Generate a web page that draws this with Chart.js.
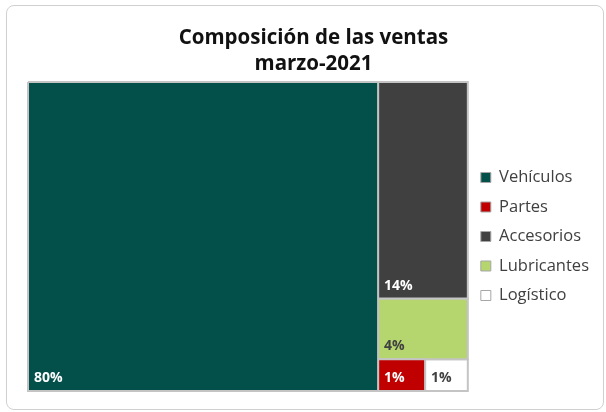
<!DOCTYPE html>
<html>
<head>
<meta charset="utf-8">
<script src="https://cdn.jsdelivr.net/npm/chart.js@4.4.0/dist/chart.umd.min.js"></script>
<style>
  html, body { margin: 0; padding: 0; background: #fff; }
  #wrap { position: relative; width: 606px; height: 412px; }
  #frame { position: absolute; left: 6px; top: 5px; width: 598px; height: 405px; border: 1px solid #d0d0d0;
           border-radius: 8px; box-sizing: border-box; pointer-events: none; }
  canvas { position: absolute; left: 0; top: 0; }
</style>
</head>
<body>
<div id="wrap">
  <canvas id="chart" width="606" height="412"></canvas>
  <div id="frame"></div>
</div>
<script>
// Sales composition, March 2021 (share of total, %)
const categories = ["Vehículos", "Partes", "Accesorios", "Lubricantes", "Logístico"];
const shares = [79.6, 1.1, 14.3, 4.0, 1.0];
const colors = ["#03504a", "#c00000", "#404040", "#b5d66f", "#ffffff"];
const labelColors = ["#ffffff", "#ffffff", "#ffffff", "#404040", "#404040"];
const titleLines = ["Composición de las ventas", "marzo-2021"];

// treemap box in value units (same aspect as the plot area)
const BOX_W = 439;
const BOX_H = 309;
const FONT = "'Open Sans', sans-serif";

/** Squarified treemap layout; returns a rect per original index. */
function squarify(values, w, h) {
  const order = values.map((v, i) => ({ i, v })).sort((a, b) => b.v - a.v);
  const total = order.reduce((s, d) => s + d.v, 0);
  const items = order.map((d) => ({ i: d.i, a: d.v * (w * h) / total }));
  const out = [];
  let rect = { x: 0, y: 0, w, h };
  let row = [];

  const worst = (r, side) => {
    const sum = r.reduce((s, d) => s + d.a, 0);
    const max = Math.max(...r.map((d) => d.a));
    const min = Math.min(...r.map((d) => d.a));
    return Math.max(side * side * max / (sum * sum), (sum * sum) / (side * side * min));
  };

  const layoutRow = (r) => {
    const sum = r.reduce((s, d) => s + d.a, 0);
    if (rect.w >= rect.h) {
      const cw = sum / rect.h;
      let cy = rect.y;
      r.forEach((d) => {
        const ch = d.a / cw;
        out[d.i] = { x0: rect.x, x1: rect.x + cw, y0: cy, y1: cy + ch };
        cy += ch;
      });
      rect = { x: rect.x + cw, y: rect.y, w: rect.w - cw, h: rect.h };
    } else {
      const rh = sum / rect.w;
      let cx = rect.x;
      r.forEach((d) => {
        const cw = d.a / rh;
        out[d.i] = { x0: cx, x1: cx + cw, y0: rect.y, y1: rect.y + rh };
        cx += cw;
      });
      rect = { x: rect.x, y: rect.y + rh, w: rect.w, h: rect.h - rh };
    }
  };

  let k = 0;
  while (k < items.length) {
    const side = Math.min(rect.w, rect.h);
    if (row.length === 0 || worst(row.concat(items[k]), side) <= worst(row, side)) {
      row.push(items[k]);
      k++;
    } else {
      layoutRow(row);
      row = [];
    }
  }
  if (row.length) layoutRow(row);
  return out;
}

const rects = squarify(shares, BOX_W, BOX_H);

const datasets = categories.map((name, i) => {
  const r = rects[i];
  return {
    label: name,
    data: [
      { x: r.x0, y: r.y0 }, { x: r.x1, y: r.y0 },
      { x: r.x1, y: r.y1 }, { x: r.x0, y: r.y1 }, { x: r.x0, y: r.y0 },
    ],
    showLine: true,
    fill: "shape",
    backgroundColor: colors[i],
    borderColor: "#c4c4c4",
    borderWidth: 2,
    borderJoinStyle: "miter",
    pointRadius: 0,
    pointHoverRadius: 0,
    tension: 0,
    clip: 4,
  };
});

// percentage label in the lower-left corner of each cell
const cellLabels = {
  id: "cellLabels",
  afterDatasetsDraw(chart) {
    const { ctx, scales: { x, y } } = chart;
    ctx.save();
    ctx.font = "bold 14px " + FONT;
    ctx.textBaseline = "alphabetic";
    ctx.textAlign = "left";
    rects.forEach((r, i) => {
      ctx.fillStyle = labelColors[i];
      ctx.fillText(Math.round(shares[i]) + "%", x.getPixelForValue(r.x0) + 6, y.getPixelForValue(r.y1) - 9);
    });
    ctx.restore();
  },
};

new Chart(document.getElementById("chart"), {
  type: "scatter",
  data: { datasets },
  options: {
    animation: false,
    responsive: false,
    layout: { padding: { left: 28, right: 7, top: 0, bottom: 21 } },
    scales: {
      x: { type: "linear", min: 0, max: BOX_W, display: false },
      y: { type: "linear", min: 0, max: BOX_H, reverse: true, display: false },
    },
    plugins: {
      title: {
        display: true,
        text: titleLines,
        color: "#111111",
        font: { family: FONT, size: 20.5, weight: "bold", lineHeight: 1.268 },
        padding: { top: 25, bottom: 5 },
      },
      legend: {
        position: "right",
        align: "center",
        fullSize: false,
        labels: {
          boxWidth: 10,
          boxHeight: 10,
          padding: 13,
          color: "#404040",
          font: { family: FONT, size: 16.5 },
          generateLabels: (chart) =>
            Chart.defaults.plugins.legend.labels.generateLabels(chart).map((l) => ({ ...l, lineWidth: 1, strokeStyle: "#a6a6a6" })),
        },
      },
      tooltip: { enabled: false },
    },
  },
  plugins: [cellLabels],
});
</script>
</body>
</html>
